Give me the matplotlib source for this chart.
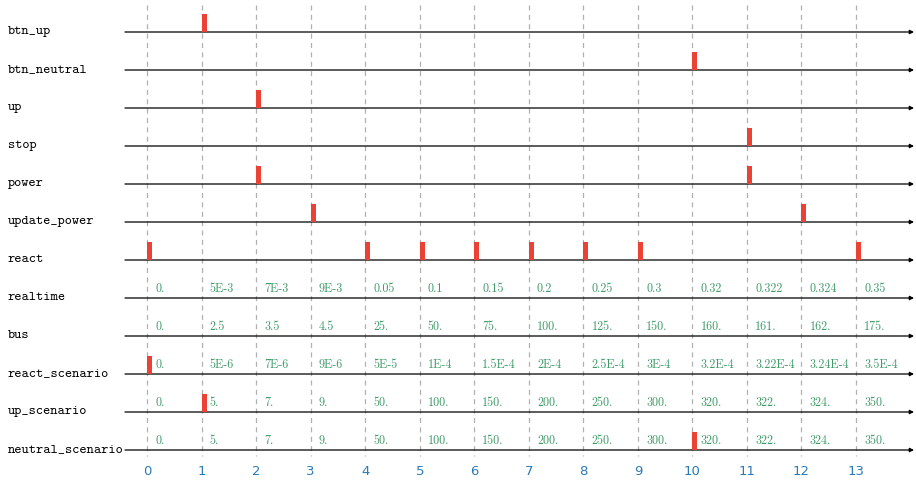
import matplotlib.pyplot as plt
from matplotlib.transforms import blended_transform_factory

# signal names, top to bottom
signals = ['btn_up', 'btn_neutral', 'up', 'stop', 'power', 'update_power',
           'react', 'realtime', 'bus', 'react_scenario', 'up_scenario',
           'neutral_scenario']

# instants at which each signal fires
events = {
    'btn_up': [1],
    'btn_neutral': [10],
    'up': [2],
    'stop': [11],
    'power': [2, 11],
    'update_power': [3, 12],
    'react': [0, 4, 5, 6, 7, 8, 9, 13],
    'react_scenario': [0],
    'up_scenario': [1],
    'neutral_scenario': [10],
}

# printed values per instant
realtime_vals = ['0.', '5E-3', '7E-3', '9E-3', '0.05', '0.1', '0.15', '0.2',
                 '0.25', '0.3', '0.32', '0.322', '0.324', '0.35']
bus_vals = ['0.', '2.5', '3.5', '4.5', '25.', '50.', '75.', '100.', '125.',
            '150.', '160.', '161.', '162.', '175.']
react_scenario_vals = ['0.', '5E-6', '7E-6', '9E-6', '5E-5', '1E-4', '1.5E-4',
                       '2E-4', '2.5E-4', '3E-4', '3.2E-4', '3.22E-4',
                       '3.24E-4', '3.5E-4']
up_scenario_vals = ['0.', '5.', '7.', '9.', '50.', '100.', '150.', '200.',
                    '250.', '300.', '320.', '322.', '324.', '350.']
neutral_scenario_vals = ['0.', '5.', '7.', '9.', '50.', '100.', '150.', '200.',
                         '250.', '300.', '320.', '322.', '324.', '350.']

values = {
    'realtime': realtime_vals,
    'bus': bus_vals,
    'react_scenario': react_scenario_vals,
    'up_scenario': up_scenario_vals,
    'neutral_scenario': neutral_scenario_vals,
}

instants = list(range(14))

W, H = 916, 482
fig = plt.figure(figsize=(W / 100, H / 100), dpi=100)
ax = fig.add_axes([0, 1 - 458 / H, 1, 458 / H])

# pixel-calibrated limits: instant 0 at x=147px, 13 at 856px; rows 38px apart
ux = 13 / 709
ax.set_xlim(-147 * ux, (W - 147) * ux)
ax.set_ylim((458 - 32) / 38, -32 / 38)

for s in ax.spines.values():
    s.set_visible(False)
ax.set_yticks([])
ax.set_xticks(instants)
ax.tick_params(axis='x', length=0, pad=5, labelsize=9.5, labelcolor='#2a7ab8')

# dashed guides at every instant
for t in instants:
    ax.plot([t, t], [-0.7, 11.15], ls=(0, (4, 3.5)), color='#b0b0b0', lw=0.9,
            zorder=1)

x0 = 125 * ux - 147 * ux
x1 = 914 * ux - 147 * ux
name_tf = blended_transform_factory(fig.transFigure, ax.transData)
green = '#3f9a68'
red = '#ea4335'

for row, name in enumerate(signals):
    ax.annotate('', xy=(x1, row), xytext=(x0, row),
                arrowprops=dict(arrowstyle='-|>', color='black', lw=0.9,
                                mutation_scale=6, shrinkA=0, shrinkB=0),
                zorder=3)
    ax.text(8 / W, row - 0.02, name, transform=name_tf, family='cmtt10',
            fontsize=9.9, va='center', ha='left')
    for t in events.get(name, []):
        ax.bar(t, -0.47, width=0.092, bottom=row, align='edge', color=red,
               zorder=4)
    for t, v in zip(instants, values.get(name, [])):
        ax.text(t + 0.15, row - 0.24, v, family='cmr10', fontsize=8.7,
                color=green, va='center', ha='left', zorder=5)

fig.savefig('out.png', dpi=100)
